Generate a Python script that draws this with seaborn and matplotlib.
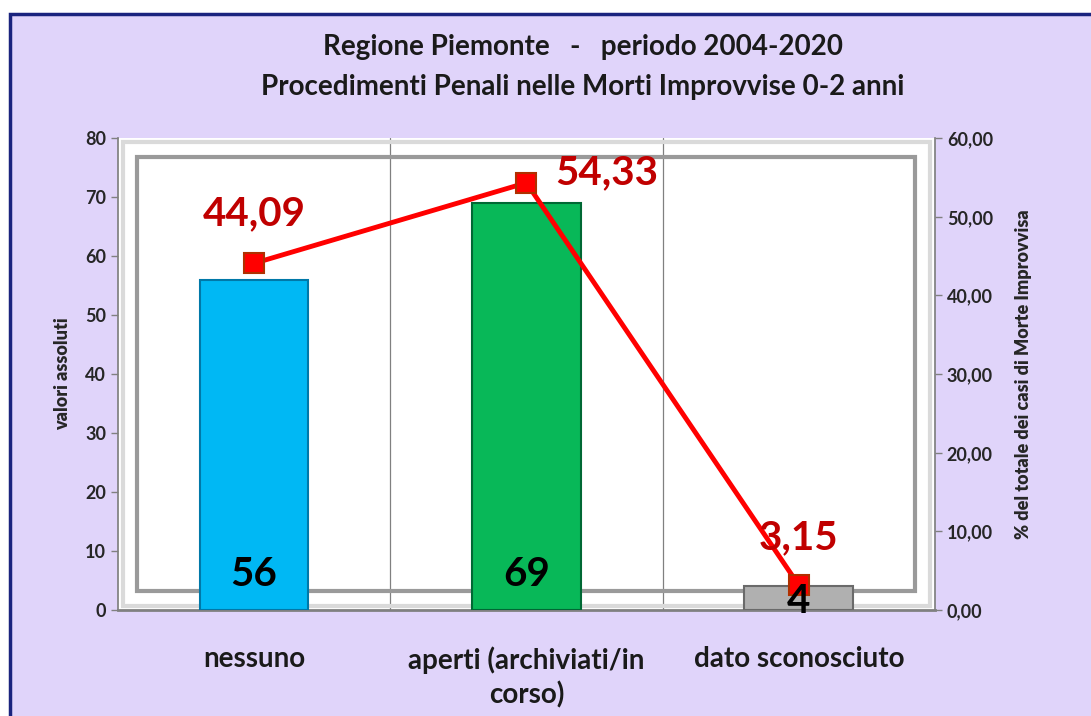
import numpy as np
import pandas as pd
import matplotlib
matplotlib.use('Agg')
import matplotlib.pyplot as plt
from matplotlib.patches import Rectangle
from matplotlib.ticker import FuncFormatter
import seaborn as sns

# dati
categorie = ['nessuno', 'aperti (archiviati/in\ncorso)', 'dato sconosciuto']
valori_assoluti = [56, 69, 4]
percentuali = [44.09, 54.33, 3.15]
colori_barre = ['#00B8F4', '#08B858', '#B0B0B0']
bordi_barre = ['#0078A8', '#006834', '#6A6A6A']

df = pd.DataFrame({'cat': categorie, 'n': valori_assoluti, 'pct': percentuali})

sns.set_theme(style='white')
plt.rcParams['font.family'] = ['Lato', 'DejaVu Sans']

fig = plt.figure(figsize=(10.91, 7.16), dpi=100)
fig.patch.set_facecolor('white')
# sfondo lilla con bordo blu
fig.patches.append(Rectangle((10 / 1091, -0.01), 1.02, 0.99,
                             transform=fig.transFigure, facecolor='#E0D4FA',
                             edgecolor='#1A237E', linewidth=2.5, zorder=-10))

ax = fig.add_axes([0.108, 0.148, 0.749, 0.659])
ax.set_facecolor('white')

sns.barplot(data=df, x='cat', y='n', hue='cat', palette=colori_barre,
            saturation=1, width=0.4, legend=False, ax=ax, zorder=3)
for patch, ec in zip(ax.patches, bordi_barre):
    patch.set_edgecolor(ec)
    patch.set_linewidth(1.5)

ax.set_xlim(-0.5, 2.5)
ax.set_ylim(0, 80)
ax.set_yticks(range(0, 81, 10))
ax.set_xticks([0, 1, 2])
ax.set_xticklabels(categorie, fontsize=20, fontweight='bold', color='#1a1a1a',
                   va='top', linespacing=1.35)
ax.tick_params(axis='x', length=0, pad=26)
ax.tick_params(axis='y', labelsize=13, length=5, width=1, color='#808080',
               direction='out', left=True)
for lab in ax.get_yticklabels():
    lab.set_fontweight('bold')
ax.set_xlabel('')
ax.set_ylabel('valori assoluti', fontsize=13, fontweight='heavy', labelpad=10)

# separatori verticali tra categorie
for xv in [0.5, 1.5]:
    ax.axvline(xv, color='#808080', linewidth=0.9, zorder=1)

# cornice decorativa interna
ax.add_patch(Rectangle((0.024, 0.04), 0.951, 0.92, transform=ax.transAxes,
                       fill=False, edgecolor='#9A9A9A', linewidth=3, zorder=2))
ax.add_patch(Rectangle((0.006, 0.008), 0.988, 0.984, transform=ax.transAxes,
                       fill=False, edgecolor='#DADADA', linewidth=3, zorder=2))

for sp in ['top', 'right']:
    ax.spines[sp].set_visible(False)
ax.spines['left'].set_color('#808080')
ax.spines['bottom'].set_color('#808080')
ax.spines['bottom'].set_linewidth(2)

# asse destro: percentuali
ax2 = ax.twinx()
sns.pointplot(data=df, x='cat', y='pct', color='#FF0000', markers='s',
              linestyles='-', ax=ax2, zorder=5)
for line in ax2.lines:
    line.set_linewidth(3.5)
    line.set_markersize(14)
    line.set_markeredgecolor('#B03000')
    line.set_markeredgewidth(1.5)
ax2.set_xlim(-0.5, 2.5)
ax2.set_ylim(0, 60)
ax2.set_yticks(range(0, 61, 10))
ax2.yaxis.set_major_formatter(FuncFormatter(lambda v, p: f'{v:.2f}'.replace('.', ',')))
ax2.tick_params(axis='y', labelsize=13, length=5, width=1, color='#808080',
                direction='out', right=True)
for lab in ax2.get_yticklabels():
    lab.set_fontweight('bold')
ax2.set_ylabel('% del totale dei casi di Morte Improvvisa', fontsize=13,
               fontweight='heavy', labelpad=16)
ax2.set_xlabel('')
for sp in ['top', 'left', 'bottom']:
    ax2.spines[sp].set_visible(False)
ax2.spines['right'].set_color('#808080')
ax2.grid(False)

# etichette sulle barre (sopra la linea)
for i, v in enumerate(valori_assoluti):
    y = 6 if v > 10 else 1.5
    ax2.text(i, y, str(v), transform=ax.transData, ha='center', va='center',
             fontsize=29, fontweight='bold', color='black', zorder=8)

offsets = [(0, 36), (58, 7), (0, 34)]
for i, (p, off) in enumerate(zip(percentuali, offsets)):
    ax2.annotate(f'{p:.2f}'.replace('.', ','), (i, p), textcoords='offset points',
                 xytext=off, ha='center', va='center', fontsize=29,
                 fontweight='bold', color='#C00000', zorder=7)

fig.text(0.534, 0.934, 'Regione Piemonte   -   periodo 2004-2020',
         ha='center', va='center', fontsize=20, fontweight='bold', color='#1a1a1a')
fig.text(0.534, 0.878, 'Procedimenti Penali nelle Morti Improvvise 0-2 anni',
         ha='center', va='center', fontsize=20, fontweight='bold', color='#1a1a1a')

fig.savefig('out.png', dpi=100)
